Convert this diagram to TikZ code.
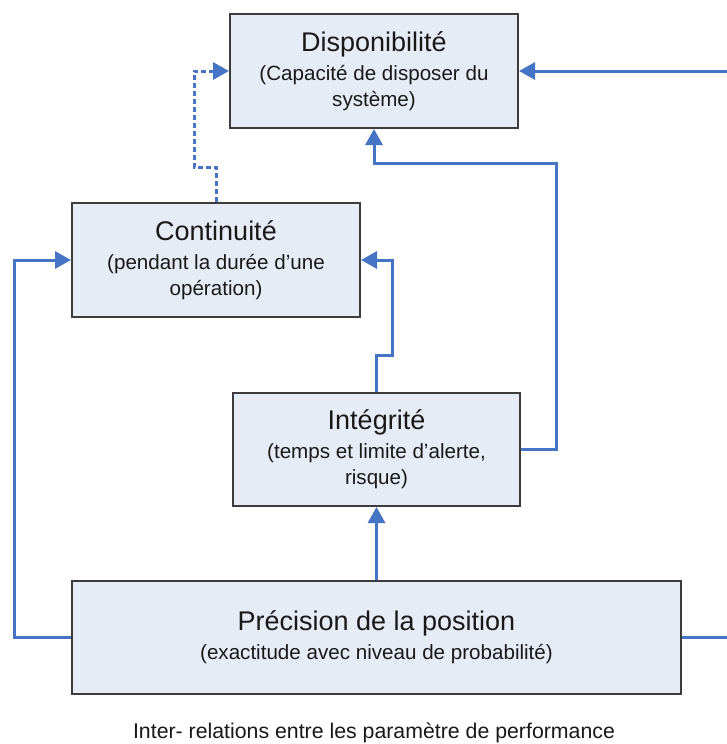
\documentclass[tikz,border=0pt]{standalone}
\usepackage{fontspec}
\setmainfont{Liberation Sans}
\usetikzlibrary{arrows.meta}
\definecolor{boxfill}{RGB}{230,236,246}
\definecolor{boxline}{RGB}{60,60,60}
\definecolor{arrowblue}{RGB}{70,116,196}
\definecolor{txt}{RGB}{25,25,25}
\newcommand\boxtitle{\fontsize{27}{30}\selectfont}
\newcommand\boxsub{\fontsize{20.6}{26}\selectfont}
\tikzset{
  pbox/.style={draw=boxline, line width=2pt, fill=boxfill, align=center, inner sep=0pt,
    text=txt, font=\boxsub},
  link/.style={draw=arrowblue, line width=3pt, -{Triangle[length=16pt,width=17pt]}},
  dlink/.style={link, dash pattern=on 5pt off 3pt},
}
\begin{document}
\begin{tikzpicture}[x=1pt,y=-1pt]
\clip (0,0) rectangle (727,744);
\fill[white] (0,0) rectangle (727,744);
\node[pbox, minimum width=288pt, minimum height=114pt] (disp) at (374,71)
  {{\boxtitle Disponibilité}\\[3pt](Capacité de disposer du\\système)};
\node[pbox, minimum width=288pt, minimum height=114pt] (cont) at (216,260)
  {{\boxtitle Continuité}\\[3pt](pendant la durée d'une\\opération)};
\node[pbox, minimum width=287pt, minimum height=113pt] (int) at (376.5,449.5)
  {{\boxtitle Intégrité}\\[3pt](temps et limite d'alerte,\\risque)};
\node[pbox, minimum width=609pt, minimum height=113pt] (prec) at (376.5,637)
  {{\boxtitle Précision de la position}\\[3pt](exactitude avec niveau de probabilité)};
\node[text=txt, font=\fontsize{21.3}{25}\selectfont] (cap) at (374,733)
  {Inter- relations entre les paramètre de performance};
\draw[dlink] (cont.north) -- ++(0,-35) -- ++(-22,0) |- (disp.west);
\draw[link] (int.north) -- ++(0,-37) -- ++(16,0) |- (cont.east);
\draw[link] (int.east) -- ++(35,0) |- (374,163) -- (disp.south);
\draw[link] (prec.north) -- (int.south);
\draw[link] (prec.west) -- ++(-57,0) |- (cont.west);
\draw[link] (prec.east) -- (760,637) |- (disp.east);
\end{tikzpicture}
\end{document}
